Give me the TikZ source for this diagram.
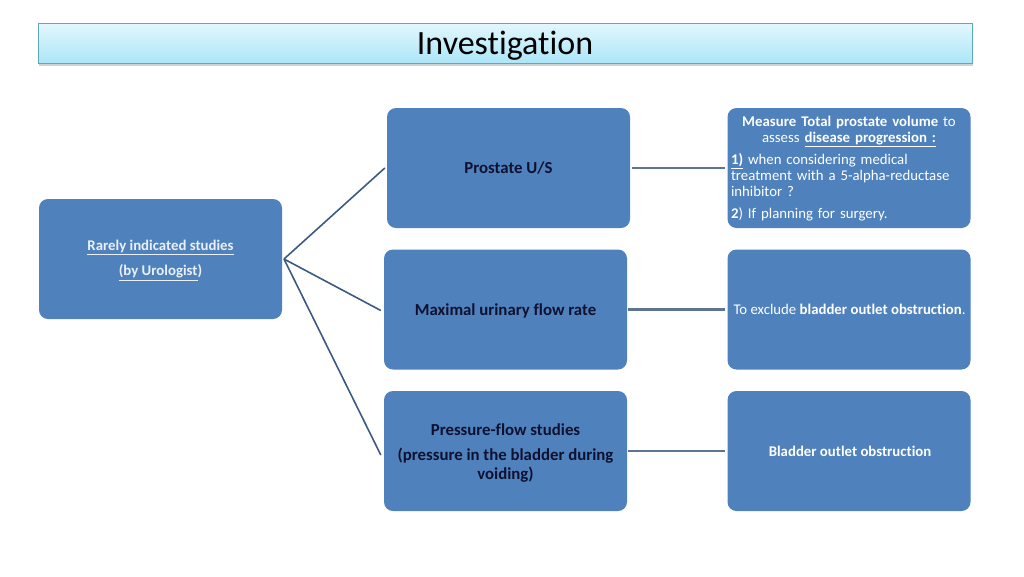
\documentclass[tikz,border=0pt]{standalone}
\usepackage{fontspec}
\setmainfont{Carlito}[Ligatures=NoCommon]
\usetikzlibrary{shadows}
\definecolor{boxblue}{HTML}{4F81BD}
\definecolor{linedark}{HTML}{3C5A82}
\definecolor{linegray}{HTML}{5E7592}
\definecolor{titletop}{HTML}{E3F7FD}
\definecolor{titlebot}{HTML}{ABE6F8}
\definecolor{titleedge}{HTML}{5FA8B8}
\definecolor{darktext}{HTML}{0E1230}
\definecolor{lighttext}{HTML}{EAF0F8}
\tikzset{
  bluebox/.style={draw=none, fill=boxblue, rounded corners=9pt, minimum width=243pt, minimum height=120pt, inner sep=0pt},
  midtext/.style={text=darktext, font=\fontsize{16.8}{19}\selectfont\bfseries, align=center},
  righttext/.style={text=white, font=\fontsize{14.8}{16}\selectfont},
  fanline/.style={draw=linedark, line width=1.6pt},
  hline/.style={draw=linegray, line width=2.2pt}
}
\begin{document}
\begin{tikzpicture}[x=1pt,y=-1pt]
\useasboundingbox (0,0) rectangle (1024,576);
% title
\node[draw=titleedge, line width=0.8pt, top color=titletop, bottom color=titlebot,
  minimum width=934pt, minimum height=40pt, inner sep=0pt,
  drop shadow={shadow xshift=1pt, shadow yshift=-3pt, fill=black!35, opacity=0.5}] (title) at (505,43) {};
\node[font=\fontsize{34}{36}\selectfont] at (505,46) {Investigation};
% left box
\node[bluebox] (rare) at (160.5,259) {};
\node[text=lighttext, font=\fontsize{14.8}{23}\selectfont\bfseries, align=center] at (160.5,260.5)
  {\underline{Rarely indicated studies}\\[2pt]\underline{(by Urologist})};
% middle boxes
\node[bluebox] (pus) at (508.5,168) {};
\node[midtext] at (pus.center) {Prostate U/S};
\node[bluebox] (qmax) at (505.5,309.5) {};
\node[midtext] at (505.5,310.5) {Maximal urinary flow rate};
\node[bluebox] (pfs) at (505.5,451) {};
\node[midtext] at (505.5,453) {Pressure-flow studies\\[6pt](pressure in the bladder during\\voiding)};
% right boxes
\node[bluebox] (r1) at (849,168) {};
\node[righttext, text width=236pt, align=left, inner sep=0pt] at (849,168.5) {%
  \centering\textbf{Measure Total prostate volume} to\\assess \textbf{\underline{disease progression :}}\par
  \vspace{6pt}\raggedright
  \textbf{\underline{1)}} when considering medical\\treatment with a 5-alpha-reductase\\inhibitor ?\par
  \vspace{6pt}
  \textbf{2}) If planning for surgery.\par};
\node[bluebox] (r2) at (849,309.5) {};
\node[righttext] at (849.5,309.5) {To exclude \textbf{bladder outlet obstruction}.};
\node[bluebox] (r3) at (849,451) {};
\node[righttext, font=\fontsize{14.8}{16}\selectfont\bfseries] at (850,451) {Bladder outlet obstruction};
% connectors
\coordinate (hub) at (284,259);
\draw[fanline] (hub) -- ([xshift=-2pt]pus.west);
\draw[fanline] (hub) -- ([xshift=-3pt,yshift=-1pt]qmax.west);
\draw[fanline] (hub) -- ([xshift=-3pt,yshift=-4pt]pfs.west);
\draw[hline] ([xshift=2pt]pus.east) -- ([xshift=-2pt]r1.west);
\draw[hline] ([xshift=1pt]qmax.east) -- ([xshift=-2pt]r2.west);
\draw[hline] ([xshift=1pt]pfs.east) -- ([xshift=-2pt]r3.west);
\end{tikzpicture}
\end{document}
